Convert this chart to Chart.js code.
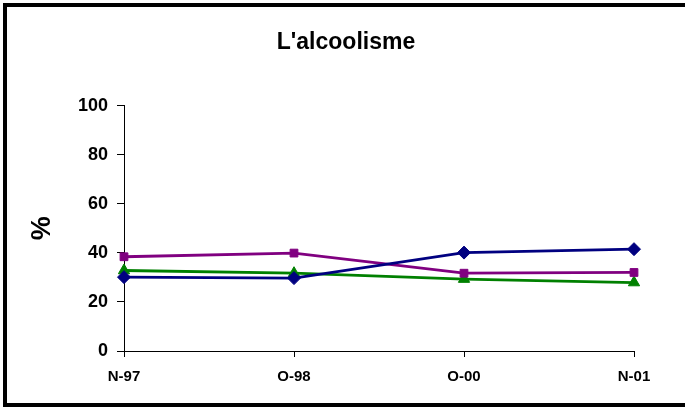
<!DOCTYPE html>
<html>
<head>
<meta charset="utf-8">
<script src="https://cdn.jsdelivr.net/npm/chart.js@4/dist/chart.umd.min.js"></script>
<style>
	html, body { margin: 0; padding: 0; background: #fff; }
	#wrap { width: 685px; height: 407px; }
</style>
</head>
<body>
<div id="wrap"><canvas id="chart" width="685" height="407"></canvas></div>
<script>
const labels = ['N-97', 'O-98', 'O-00', 'N-01'];
const seriesBlue = [30.1, 29.7, 40.1, 41.5];
const seriesPurple = [38.4, 39.9, 31.7, 32.0];
const seriesGreen = [32.8, 31.7, 29.3, 27.9];
const yTicks = [0, 20, 40, 60, 80, 100];

const FONT = '"Liberation Sans", Arial, sans-serif';

// black frame around the chart (right side runs off the picture)
const frame = {
	id: 'frame',
	afterDraw(chart) {
		const ctx = chart.ctx;
		ctx.save();
		ctx.strokeStyle = '#000';
		ctx.lineWidth = 4;
		ctx.strokeRect(5, 5, 700, 400);
		ctx.restore();
	}
};

const ds = (label, data, color, style) => ({
	label,
	data,
	yAxisID: 'y',
	borderColor: color,
	backgroundColor: color,
	borderWidth: 2.8,
	pointStyle: style,
	pointRadius: style === 'rect' ? 5.5 : 6.5,
	pointHoverRadius: 6,
	pointBorderWidth: 1,
	tension: 0,
	clip: false
});

new Chart(document.getElementById('chart'), {
	type: 'line',
	data: {
		labels,
		datasets: [
			ds('Série 1', seriesBlue, '#000080', 'rectRot'),
			ds('Série 2', seriesPurple, '#800080', 'rect'),
			ds('Série 3', seriesGreen, '#008000', 'triangle')
		]
	},
	options: {
		responsive: false,
		animation: false,
		events: [],
		layout: { padding: { left: 7, right: 0, top: 0, bottom: 0 } },
		plugins: {
			legend: { display: false },
			tooltip: { enabled: false },
			title: {
				display: true,
				text: "L'alcoolisme",
				color: '#000',
				font: { family: FONT, size: 23, weight: 'bold' },
				padding: { top: 29, bottom: 49 }
			}
		},
		scales: {
			x: {
				offset: false,
				grid: { drawOnChartArea: false, drawTicks: true, tickLength: 6, color: '#000' },
				border: { display: true, color: '#000', width: 1 },
				ticks: {
					color: '#000',
					font: { family: FONT, size: 15, weight: 'bold' },
					padding: 11,
					maxRotation: 0
				},
				afterFit(scale) { scale.height = 56; }
			},
			y: {
				min: 0,
				max: 100,
				afterBuildTicks(scale) { scale.ticks = yTicks.map((v) => ({ value: v })); },
				grid: { drawOnChartArea: false, drawTicks: true, tickLength: 7, color: '#000' },
				border: { display: true, color: '#000', width: 1 },
				ticks: {
					color: '#000',
					font: { family: FONT, size: 18, weight: 'bold' },
					padding: 9
				},
				title: {
					display: true,
					text: '%',
					color: '#000',
					font: { family: FONT, size: 27, weight: 'bold' },
					padding: { top: 19, bottom: 0 }
				},
				afterFit(scale) { scale.width = 117; }
			},
			// empty right-hand box that keeps the space right of the plot
			y2: {
				position: 'right',
				display: true,
				grid: { display: false },
				border: { display: false },
				ticks: { display: false },
				afterFit(scale) { scale.width = 51; }
			}
		}
	},
	plugins: [frame]
});
</script>
</body>
</html>
